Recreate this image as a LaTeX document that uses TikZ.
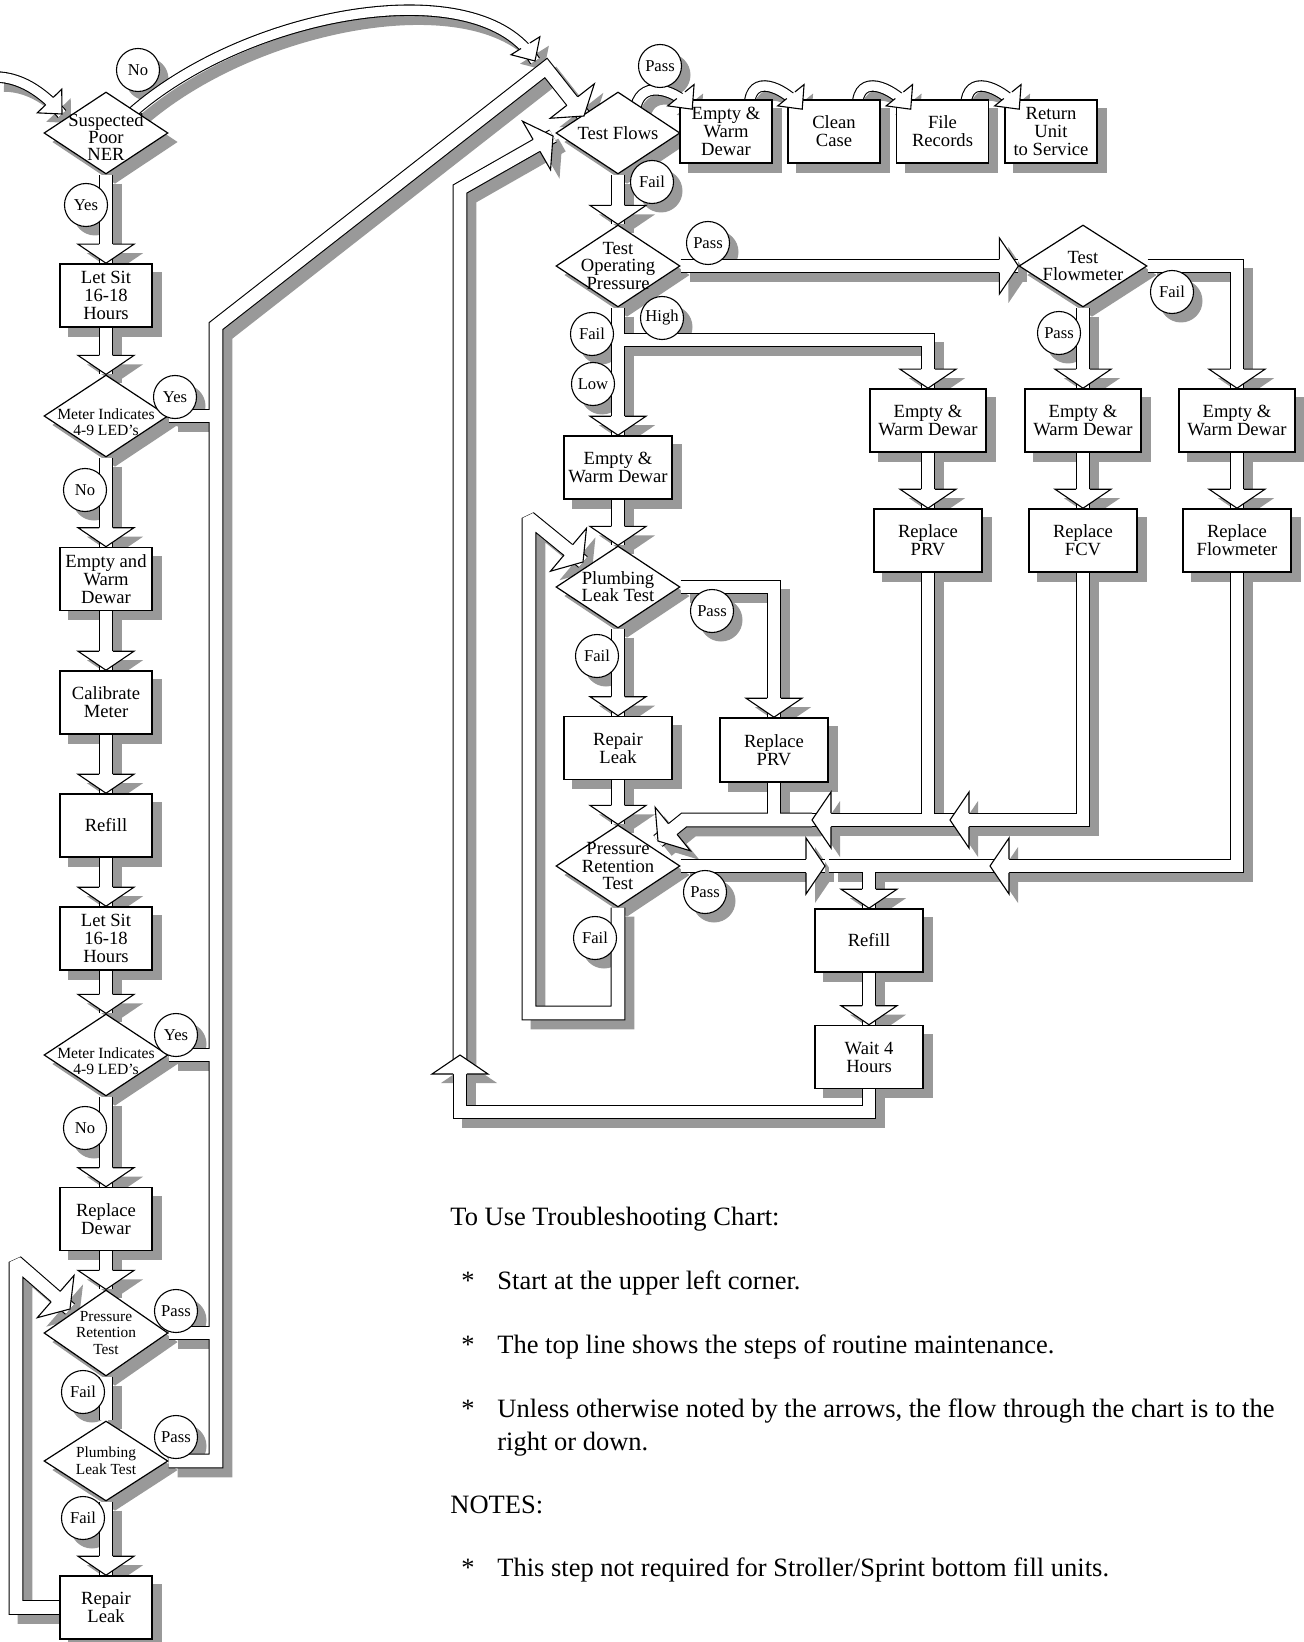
\documentclass[tikz,border=0pt]{standalone}
\usepackage{fontspec}
\setmainfont{Liberation Serif}
\usetikzlibrary{shapes.geometric}
\pgfdeclarelayer{shadow}
\pgfdeclarelayer{tubeout}
\pgfdeclarelayer{tubein}
\pgfsetlayers{shadow,tubeout,tubein,main}
\definecolor{shadowgray}{gray}{0.6}

\tikzset{
  box/.style={draw, line width=0.8pt, fill=white, inner sep=0pt, align=center,
    minimum width=#1, minimum height=31.5pt,
    font={\fontsize{9.3}{9}\selectfont\lineskiplimit=-20pt}},
  box/.default=46pt,
  diam/.style={diamond, draw, line width=0.6pt, fill=white, inner sep=0pt,
    minimum width=62pt, minimum height=41pt},
  dtext/.style={align=center, inner sep=0pt,
    font={\fontsize{9.3}{8.6}\selectfont\lineskiplimit=-20pt}},
  dsmall/.style={align=center, inner sep=0pt,
    font={\fontsize{7.8}{7.9}\selectfont\lineskiplimit=-20pt}},
  dsmaller/.style={align=center, inner sep=0pt,
    font={\fontsize{7.7}{8.4}\selectfont\lineskiplimit=-20pt}},
  lab/.style={circle, draw, line width=0.55pt, fill=white, inner sep=0pt,
    minimum size=21.5pt, font=\fontsize{8.3}{8.3}\selectfont},
  txt/.style={anchor=base west, inner sep=0pt, font=\fontsize{13.25}{16}\selectfont},
  big shade/.style={draw=shadowgray, line width=7.4pt, miter limit=2,
    transform canvas={xshift=4.5pt, yshift=-4.5pt}},
  big out/.style={draw=black, line width=7.4pt, miter limit=2},
  big in/.style={draw=white, line width=6.3pt, miter limit=2},
  slim shade/.style={draw=shadowgray, line width=5.75pt,
    transform canvas={xshift=4.5pt, yshift=-4.5pt}},
  slim out/.style={draw=black, line width=5.75pt},
  slim in/.style={draw=white, line width=4.65pt},
  headline/.style={fill=white, draw=black, line width=0.55pt},
}

% hollow tube: shadow, outline and inside on their own layers
\def\fattube[#1]#2;{%
  \begin{pgfonlayer}{shadow}\draw[#1 shade] #2;\end{pgfonlayer}%
  \begin{pgfonlayer}{tubeout}\draw[#1 out] #2;\end{pgfonlayer}%
  \begin{pgfonlayer}{tubein}\draw[#1 in] #2;\end{pgfonlayer}}
% arrow heads: #1 tip, #2 direction
\newcommand\bighead[2]{%
  \begin{pgfonlayer}{shadow}
    \fill[shadowgray, shift={#1}, xshift=4.5pt, yshift=-4.5pt, rotate=#2]
      (0,0) -- (-19,28) -- (-19,-28) -- cycle;
  \end{pgfonlayer}
  \path[headline, shift={#1}, rotate=#2]
    (-19,6.85) -- (-19,28) -- (0,0) -- (-19,-28) -- (-19,-6.85);}
\newcommand\slimhead[2]{%
  \begin{pgfonlayer}{shadow}
    \fill[shadowgray, shift={#1}, xshift=4.5pt, yshift=-4.5pt, rotate=#2]
      (0,0) -- (-18,17) -- (-18,-17) -- cycle;
  \end{pgfonlayer}
  \path[headline, shift={#1}, rotate=#2]
    (-18,5.2) -- (-18,17) -- (0,0) -- (-18,-17) -- (-18,-5.2);}

\begin{document}
\begin{tikzpicture}[x=0.5pt, y=-0.5pt]
\useasboundingbox (0,0) rectangle (1304,1642);

% left column
\node[diam, label={[dtext, yshift=-2pt]center:{Suspected\\Poor\\NER}}] (susp) at (106,133) {};
\node[box] (sit1) at (106,295.5) {Let Sit\\16-18\\Hours};
\node[diam, label={[dsmall, yshift=-3pt]center:{Meter Indicates\\4-9 LED's}}] (meter1) at (106,416) {};
\node[box] (ewd) at (106,579) {Empty and\\Warm\\Dewar};
\node[box] (cal) at (106,702.5) {Calibrate\\Meter};
\node[box] (refL) at (106,825.5) {Refill};
\node[box] (sit2) at (106,938.5) {Let Sit\\16-18\\Hours};
\node[diam, label={[dsmall, yshift=-3pt]center:{Meter Indicates\\4-9 LED's}}] (meter2) at (106,1055) {};
\node[box] (repd) at (106,1219) {Replace\\Dewar};
\node[diam, minimum height=43pt, label={[dsmaller]center:{Pressure\\Retention\\Test}}] (prl) at (106,1333) {};
\node[diam, minimum height=40pt, label={[dsmaller]center:{Plumbing\\Leak Test}}] (pll) at (106,1461) {};
\node[box] (rll) at (106,1607.5) {Repair\\Leak};

% top line
\node[diam, label={[dtext]center:{Test Flows}}] (tf) at (618,133) {};
\node[box] (ew) at (726,131.5) {Empty \&\\Warm\\Dewar};
\node[box] (cc) at (834,131.5) {Clean\\Case};
\node[box] (fr) at (942.5,131.5) {File\\Records};
\node[box] (ru) at (1051,131.5) {Return\\Unit\\to Service};

% right part
\node[diam, label={[dtext]center:{Test\\Operating\\Pressure}}] (tops) at (618,266) {};
\node[diam, minimum width=64pt, label={[dtext]center:{Test\\Flowmeter}}] (tfm) at (1083,266) {};
\node[box=54pt] (ewA) at (618,467.5) {Empty \&\\Warm Dewar};
\node[box=58pt] (ewB) at (928,420.5) {Empty \&\\Warm Dewar};
\node[box=58pt] (ewC) at (1083,420.5) {Empty \&\\Warm Dewar};
\node[box=58pt] (ewD) at (1237,420.5) {Empty \&\\Warm Dewar};
\node[box=54pt] (rpB) at (928,540.5) {Replace\\PRV};
\node[box=54pt] (rpC) at (1083,540.5) {Replace\\FCV};
\node[box=54pt] (rpD) at (1237,540.5) {Replace\\Flowmeter};
\node[diam, label={[dtext]center:{Plumbing\\Leak Test}}] (plm) at (618,587) {};
\node[box=54pt] (rlm) at (618,748) {Repair\\Leak};
\node[box=54pt, minimum height=32pt] (rpA) at (774,750) {Replace\\PRV};
\node[diam, label={[dtext]center:{Pressure\\Retention\\Test}}] (prm) at (618,866) {};
\node[box=54pt] (refR) at (869,940.5) {Refill};
\node[box=54pt] (wait) at (869,1057) {Wait 4\\Hours};

% straight steps
\foreach \p/\q in {susp/sit1, sit1/meter1, meter1/ewd, ewd/cal, cal/refL, refL/sit2,
    sit2/meter2, meter2/repd, repd/prl, pll/rll, tf/tops, tops/ewA, ewA/plm, plm/rlm,
    rlm/prm, tfm/ewC, ewB/rpB, ewC/rpC, ewD/rpD, refR/wait}{
  \fattube[big] (\p.south) -- (\q.north);
  \bighead{(\q.north)}{-90}
}
\fattube[big] (prl.south) -- (pll.north);

% entry and the No arc
\fattube[slim] (-5,77) .. controls (25,77) and (48,98) .. (62,114);
\slimhead{(62,114)}{-46}
\fattube[slim] (133,112) .. controls (250,10) and (480,-30) .. (535,61);
\slimhead{(535,61)}{-58}

% passes of the left column into the long return
\foreach \p in {meter1, meter2, prl}
  \fattube[big] (\p.east) -- +(48,0);
\fattube[big] (pll.east) -| (216,326) -- (546,68) -- (584,116);
\bighead{(584,116)}{-52}
\fattube[big] (rll.west) -| (16,1262) -- (70,1309);
\bighead{(70,1309)}{-41}

% routine maintenance
\coordinate (tipew) at ([shift={(13,10)}]ew.north west);
\fattube[slim] (636,106) .. controls +(7,-28) and +(-14,-18) .. (tipew);
\slimhead{(tipew)}{-51}
\foreach \p/\q in {ew/cc, cc/fr, fr/ru}{
  \coordinate (tip\q) at ([shift={(15,10)}]\q.north west);
  \fattube[slim] ([shift={(-23,1)}]\p.north east) .. controls +(5,-28) and +(-14,-18) .. (tip\q);
  \slimhead{(tip\q)}{-51}
}

% operating pressure and flowmeter
\fattube[big] (tops.east) -- (tfm.west);
\bighead{(tfm.west)}{0}
\fattube[big] (618,340) -| (ewB.north);
\bighead{(ewB.north)}{-90}
\fattube[big] (tfm.east) -| (ewD.north);
\bighead{(ewD.north)}{-90}
\fattube[big] (plm.east) -| (rpA.north);
\bighead{(rpA.north)}{-90}
\fattube[big] (prm.south) |- (529,1013) -- (529,518) -- (583,562);
\bighead{(583,562)}{-40}

% returns from the replacements
\coordinate (joinU) at (812,820);
\coordinate (joinF) at (950,820);
\coordinate (joinL) at (829,866);
\coordinate (joinM) at (990,866);
\fattube[big] (rpA.south) -- (774,820);
\fattube[big] (rpB.south) -- (928,820);
\fattube[big] (joinF) -- (joinU);
\bighead{(joinU)}{180}
\fattube[big] (joinU) -- (684,820) -- (658,841);
\bighead{(658,841)}{-141}
\fattube[big] (rpC.south) |- (joinF);
\bighead{(joinF)}{180}
\fattube[big] (prm.east) -- (825,866);
\bighead{(825,866)}{0}
\fattube[big] (rpD.south) |- (joinM);
\bighead{(joinM)}{180}
\fattube[big] (joinM) -- (joinL);
\fattube[big] (869,866) -- (refR.north);
\bighead{(refR.north)}{-90}

% wait loop back to Test Flows
\fattube[big] (wait.south) |- (460,1112) -- (460,1055);
\bighead{(460,1055)}{90}
\fattube[big] (460,1068) -- (460,189) -- (553,136);
\bighead{(553,136)}{30}

% answers
\node[lab] (cNoA) at (138,70) {No};
\node[lab] (cYesA) at (86,205) {Yes};
\node[lab] (cYesB) at (175,397) {Yes};
\node[lab] (cNoB) at (85,490) {No};
\node[lab] (cYesC) at (176,1035) {Yes};
\node[lab] (cNoC) at (85,1128) {No};
\node[lab] (cPassA) at (176,1311) {Pass};
\node[lab] (cFailA) at (83,1392) {Fail};
\node[lab] (cPassB) at (176,1437) {Pass};
\node[lab] (cFailB) at (83,1518) {Fail};
\node[lab] (cPassC) at (660,66) {Pass};
\node[lab] (cFailC) at (652,182) {Fail};
\node[lab] (cPassD) at (708,243) {Pass};
\node[lab] (cFailD) at (592,334) {Fail};
\node[lab] (cHigh) at (662,318) {High};
\node[lab] (cLow) at (593,384) {Low};
\node[lab] (cPassE) at (1059,333) {Pass};
\node[lab] (cFailE) at (1172,292) {Fail};
\node[lab] (cPassF) at (712,611) {Pass};
\node[lab] (cFailF) at (597,656) {Fail};
\node[lab] (cPassG) at (705,892) {Pass};
\node[lab] (cFailG) at (595,938) {Fail};

% notes
\node[txt] (use) at (450,1225) {To Use Troubleshooting Chart:};
\node[txt] (s1) at (461,1289) {*};
\node[txt] (t1) at (497,1289) {Start at the upper left corner.};
\node[txt] (s2) at (461,1353) {*};
\node[txt] (t2) at (497,1353) {The top line shows the steps of routine maintenance.};
\node[txt] (s3) at (461,1417) {*};
\node[txt] (t3) at (497,1417) {Unless otherwise noted by the arrows, the flow through the chart is to the};
\node[txt] (t3b) at (497,1450) {right or down.};
\node[txt] (notes) at (450,1513) {NOTES:};
\node[txt] (s4) at (461,1576) {*};
\node[txt] (t4) at (497,1576) {This step not required for Stroller/Sprint bottom fill units.};

% drop shadows
\begin{pgfonlayer}{shadow}
  \foreach \n in {sit1,ewd,cal,refL,sit2,repd,rll,ew,cc,fr,ru,ewA,ewB,ewC,ewD,rpB,rpC,rpD,rlm,rpA,refR,wait}
    \fill[shadowgray] ([shift={(9,9)}]\n.north west) rectangle ([shift={(9,9)}]\n.south east);
  \foreach \n in {susp,meter1,meter2,prl,pll,tf,tops,tfm,plm,prm}
    \fill[shadowgray] ([shift={(9,9)}]\n.north) -- ([shift={(9,9)}]\n.east)
      -- ([shift={(9,9)}]\n.south) -- ([shift={(9,9)}]\n.west) -- cycle;
  \foreach \n in {cNoA,cYesA,cYesB,cNoB,cYesC,cNoC,cPassA,cFailA,cPassB,cFailB,cPassC,
      cFailC,cPassD,cFailD,cHigh,cLow,cPassE,cFailE,cPassF,cFailF,cPassG,cFailG}
    \fill[shadowgray] ([shift={(9,9)}]\n.center) circle[radius=10.75pt];
\end{pgfonlayer}
\end{tikzpicture}
\end{document}
